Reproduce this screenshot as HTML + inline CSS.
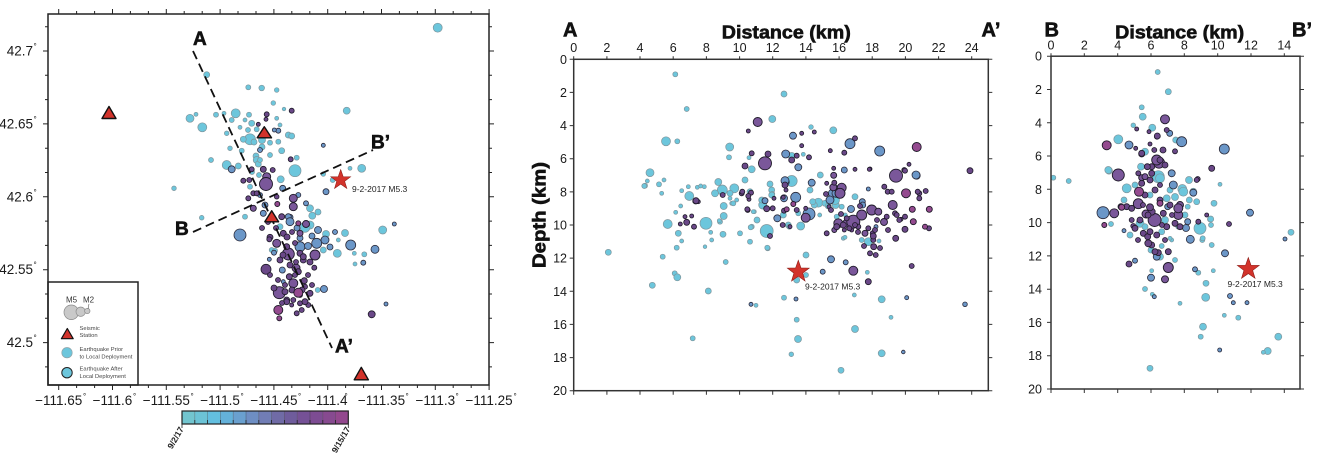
<!DOCTYPE html>
<html><head><meta charset="utf-8"><style>
html,body{margin:0;padding:0;background:#fff;}
svg{display:block;font-family:"Liberation Sans",Arial,sans-serif;}
.a{fill:#6cc6dc;stroke:#7f959c;stroke-width:.7}
.b{fill:#6b97c8;stroke:#2a2a3a;stroke-width:.8}
.c{fill:#7a579a;stroke:#1e1a28;stroke-width:.9}
.d{fill:#6a4888;stroke:#1e1a28;stroke-width:.8}
.e{fill:#944a8f;stroke:#1e1a28;stroke-width:.9}
.t{font-size:12.5px;fill:#1a1a1a}
.m{font-size:13.5px;fill:#1a1a1a}
.bl{font-weight:bold;fill:#111;stroke:#111;stroke-width:.6}
</style></head><body>
<svg width="1336" height="469" viewBox="0 0 1336 469" xmlns="http://www.w3.org/2000/svg">
<defs>
<clipPath id="cm"><rect x="48" y="14" width="441" height="371"/></clipPath>
<clipPath id="c2"><rect x="574" y="59" width="414" height="332"/></clipPath>
<clipPath id="c3"><rect x="1051" y="56" width="249" height="333"/></clipPath>
</defs>

<!-- ================= MAP ================= -->
<g clip-path="url(#cm)">
<g class="a">
<circle cx="437.7" cy="27.7" r="4.5"/><circle cx="206.7" cy="74.7" r="3"/><circle cx="248.3" cy="87.3" r="2.5"/><circle cx="261.7" cy="88" r="2.8"/><circle cx="276.7" cy="90" r="2.3"/><circle cx="273.3" cy="103" r="2.3"/><circle cx="284" cy="109" r="1.8"/><circle cx="346.7" cy="110.7" r="3.5"/><circle cx="190" cy="118.3" r="4"/><circle cx="196" cy="114.3" r="2"/><circle cx="202.3" cy="127.3" r="4.5"/><circle cx="216" cy="114.7" r="2.5"/><circle cx="224" cy="113.3" r="2"/><circle cx="235.7" cy="113.3" r="4.5"/><circle cx="231.7" cy="120" r="2.5"/><circle cx="249" cy="114.7" r="2.5"/><circle cx="245" cy="120" r="2"/><circle cx="276.7" cy="118.3" r="2"/><circle cx="240" cy="127.3" r="2"/><circle cx="251.7" cy="123.3" r="3"/><circle cx="256.7" cy="129.3" r="2.5"/><circle cx="250" cy="139.3" r="5.5"/><circle cx="243.3" cy="139.3" r="3"/><circle cx="270" cy="142.7" r="2.5"/><circle cx="278.3" cy="141.7" r="2.5"/><circle cx="288.3" cy="135" r="3"/><circle cx="291.7" cy="136" r="3"/><circle cx="280" cy="125" r="2"/><circle cx="226.7" cy="133.3" r="2.3"/><circle cx="230" cy="148.3" r="2.3"/><circle cx="241.7" cy="150.7" r="2.5"/><circle cx="256" cy="156" r="3"/><circle cx="256.7" cy="160" r="3.5"/><circle cx="258.3" cy="164" r="3"/><circle cx="296.7" cy="157.7" r="2.5"/><circle cx="281.7" cy="150.7" r="3"/><circle cx="211" cy="160" r="2.5"/><circle cx="226.7" cy="165" r="4.5"/><circle cx="238.3" cy="166" r="3"/><circle cx="295" cy="170.7" r="6"/><circle cx="361.7" cy="168.3" r="4"/><circle cx="350" cy="168.3" r="2"/><circle cx="323.3" cy="174" r="2.3"/><circle cx="174" cy="188.3" r="2.3"/><circle cx="280.7" cy="179.3" r="3.5"/><circle cx="250" cy="186.7" r="2.5"/><circle cx="310" cy="208.3" r="3.5"/><circle cx="312.3" cy="215.7" r="3.5"/><circle cx="332.7" cy="180" r="2.5"/><circle cx="201.7" cy="217.7" r="2.3"/><circle cx="245" cy="216.7" r="2.5"/><circle cx="382.7" cy="230" r="4"/><circle cx="310" cy="225" r="4"/><circle cx="305" cy="227.3" r="5"/><circle cx="280" cy="226.7" r="3"/><circle cx="271.7" cy="250" r="2.5"/><circle cx="323.3" cy="250" r="3"/><circle cx="337.3" cy="253.3" r="4"/><circle cx="354.3" cy="253.3" r="2"/><circle cx="364.3" cy="254.3" r="2.5"/><circle cx="355" cy="264" r="2"/><circle cx="338.3" cy="240" r="2"/><circle cx="326" cy="234" r="3.5"/><circle cx="317.7" cy="290" r="2.5"/><circle cx="282.7" cy="270.7" r="2.5"/><circle cx="275" cy="250.7" r="2.5"/><circle cx="260" cy="160" r="2.5"/><circle cx="265" cy="135" r="2.5"/><circle cx="248" cy="130" r="2.5"/><circle cx="262" cy="147" r="3"/><circle cx="270" cy="155" r="2.5"/><circle cx="252" cy="172" r="2.5"/><circle cx="254" cy="142" r="3"/><circle cx="262" cy="140" r="3.5"/><circle cx="259" cy="175" r="2.5"/><circle cx="318" cy="212" r="3"/><circle cx="345" cy="233" r="3.5"/>
</g>
<g class="b">
<circle cx="323.3" cy="145.3" r="2"/><circle cx="260" cy="150" r="2.5"/><circle cx="278.3" cy="130.7" r="2.5"/><circle cx="274.3" cy="130" r="2"/><circle cx="231.7" cy="169.3" r="3.5"/><circle cx="260" cy="195" r="2.5"/><circle cx="282.7" cy="188.3" r="3"/><circle cx="265" cy="205" r="3"/><circle cx="298.3" cy="195" r="2.5"/><circle cx="306" cy="203.3" r="2.5"/><circle cx="326" cy="191.7" r="3"/><circle cx="290" cy="217.3" r="3"/><circle cx="394.3" cy="224" r="2"/><circle cx="240" cy="235" r="6"/><circle cx="375" cy="249.3" r="4"/><circle cx="350.7" cy="245" r="5"/><circle cx="363.3" cy="262.7" r="2.5"/><circle cx="324" cy="289" r="3.5"/><circle cx="386" cy="304" r="2"/><circle cx="269.3" cy="259.3" r="2"/><circle cx="282.3" cy="270" r="3"/><circle cx="263.3" cy="213.3" r="3"/><circle cx="288.3" cy="216.7" r="3"/><circle cx="290" cy="221.7" r="4"/><circle cx="316.7" cy="243.3" r="5"/><circle cx="300" cy="246.7" r="5"/><circle cx="274" cy="252.7" r="2.5"/><circle cx="283.3" cy="281.7" r="2"/><circle cx="325" cy="240" r="4"/><circle cx="330" cy="247" r="3"/><circle cx="312" cy="236" r="3"/><circle cx="335" cy="232" r="2.5"/><circle cx="300" cy="238" r="3"/><circle cx="318" cy="230" r="3.5"/><circle cx="308" cy="246" r="3.5"/><circle cx="297" cy="228" r="3"/>
</g>
<g class="c">
<circle cx="266.7" cy="176.7" r="4"/><circle cx="266" cy="184" r="6.5"/><circle cx="253.3" cy="208.3" r="3"/><circle cx="293.3" cy="198.3" r="4"/><circle cx="306" cy="224" r="3.5"/><circle cx="315" cy="255" r="5"/><circle cx="279.3" cy="292.7" r="6"/><circle cx="293.3" cy="283.3" r="4.5"/><circle cx="288.3" cy="254" r="6"/><circle cx="276.7" cy="243.3" r="4"/><circle cx="300" cy="233.3" r="3"/><circle cx="293.3" cy="206.7" r="4"/><circle cx="296" cy="268" r="4"/>
</g>
<g class="d">
<circle cx="291.7" cy="110.7" r="2.5"/><circle cx="266.7" cy="114.3" r="2.5"/><circle cx="266" cy="119.3" r="2"/><circle cx="258.3" cy="124.3" r="2"/><circle cx="290.7" cy="159.3" r="2.5"/><circle cx="251.7" cy="169.3" r="2.5"/><circle cx="263.3" cy="169.3" r="3"/><circle cx="272.7" cy="170" r="2.5"/><circle cx="243.3" cy="180.7" r="2.5"/><circle cx="249.3" cy="180" r="2.5"/><circle cx="253.3" cy="193.3" r="2.5"/><circle cx="248.3" cy="198.3" r="2.5"/><circle cx="256.7" cy="193.3" r="2.5"/><circle cx="276.7" cy="196.7" r="2.3"/><circle cx="281.7" cy="216.7" r="3"/><circle cx="283.3" cy="233.3" r="3"/><circle cx="270" cy="237.3" r="3"/><circle cx="286.7" cy="246.7" r="3"/><circle cx="300" cy="253.3" r="3"/><circle cx="303.3" cy="260" r="3"/><circle cx="298.3" cy="271.7" r="3"/><circle cx="295" cy="275" r="2.5"/><circle cx="305" cy="286.7" r="2.5"/><circle cx="285" cy="291.7" r="3"/><circle cx="266" cy="269.3" r="5"/><circle cx="314.3" cy="267.7" r="2.5"/><circle cx="304.3" cy="280.7" r="3"/><circle cx="286.7" cy="300" r="3"/><circle cx="300" cy="303.3" r="2.5"/><circle cx="308.3" cy="305" r="2.5"/><circle cx="291.7" cy="305" r="2"/><circle cx="289.3" cy="276.7" r="3"/><circle cx="296.7" cy="313.3" r="2.5"/><circle cx="301.7" cy="310" r="2.5"/><circle cx="286.7" cy="301.7" r="3"/><circle cx="293.3" cy="300" r="2.5"/><circle cx="305" cy="301.7" r="3"/><circle cx="310" cy="293.3" r="3"/><circle cx="371.7" cy="314.3" r="3.5"/><circle cx="303.3" cy="256.7" r="3"/><circle cx="269.3" cy="239.3" r="2.5"/><circle cx="280" cy="260" r="3"/><circle cx="290" cy="265" r="3"/><circle cx="296" cy="262" r="2.5"/><circle cx="285" cy="285" r="2.5"/><circle cx="292" cy="290" r="3"/><circle cx="278" cy="280" r="2.5"/><circle cx="300" cy="295" r="2.5"/><circle cx="270" cy="275" r="2.5"/><circle cx="287" cy="237" r="3"/><circle cx="295" cy="243" r="2.5"/><circle cx="276" cy="228" r="2.5"/><circle cx="262" cy="228" r="2.5"/><circle cx="268" cy="222" r="2.5"/><circle cx="308" cy="275" r="2.5"/><circle cx="312" cy="285" r="2.5"/><circle cx="283" cy="255" r="3"/><circle cx="292" cy="232" r="2.5"/><circle cx="302" cy="290" r="3"/><circle cx="274" cy="288" r="3"/><circle cx="282" cy="303" r="2.5"/><circle cx="310" cy="262" r="3"/>
</g>
<g class="e">
<circle cx="277.3" cy="204" r="2.5"/><circle cx="298.3" cy="223.3" r="2.5"/><circle cx="298.3" cy="292.7" r="4.5"/><circle cx="278.3" cy="310" r="4.5"/><circle cx="279.3" cy="318.3" r="2.5"/>
</g>
</g>
<!-- profile lines -->
<g stroke="#111" stroke-width="1.8" stroke-dasharray="9 5" fill="none">
<line x1="193" y1="51" x2="332" y2="348"/>
<line x1="193" y1="232" x2="373" y2="150"/>
</g>
<!-- stations -->
<g fill="#d2332b" stroke="#111" stroke-width="1.4" stroke-linejoin="round">
<polygon points="109,106.5 116,118.5 102,118.5"/>
<polygon points="264.3,126.7 271.5,137.8 257.2,137.8"/>
<polygon points="271.7,210.7 278.6,221.8 264.8,221.8"/>
<polygon points="361.3,367.3 368.4,379.8 354.2,379.8"/>
</g>
<polygon transform="translate(340.7,180) scale(10.5)" fill="#d2332b" stroke="#8a1a14" stroke-width=".05" points="0,-1 0.235,-0.324 0.951,-0.309 0.380,0.124 0.588,0.809 0,0.4 -0.588,0.809 -0.380,0.124 -0.951,-0.309 -0.235,-0.324"/>
<text x="352" y="192" style="font-size:8.5px;fill:#222">9-2-2017 M5.3</text>
<text x="193" y="45" class="bl" style="font-size:19px">A</text>
<text x="371" y="148.5" class="bl" style="font-size:19px">B’</text>
<text x="175" y="235" class="bl" style="font-size:19px">B</text>
<text x="335" y="352.7" class="bl" style="font-size:19px">A’</text>

<!-- legend -->
<rect x="48" y="282" width="90" height="103" fill="#fff" stroke="#222" stroke-width="1.5"/>
<g fill="#c9c9c9" stroke="#8a8a8a" stroke-width=".7">
<circle cx="71.3" cy="312.3" r="7.3"/><circle cx="80.7" cy="311.7" r="4.7"/><circle cx="87.3" cy="311" r="2.7"/>
</g>
<line x1="89" y1="304" x2="88" y2="309" stroke="#555" stroke-width=".6"/>
<text x="66" y="302.5" style="font-size:8px;fill:#333">M5</text>
<text x="83" y="302.5" style="font-size:8px;fill:#333">M2</text>
<polygon points="67.3,328.5 73.2,338.7 61.4,338.7" fill="#d2332b" stroke="#111" stroke-width="1.2" stroke-linejoin="round"/>
<g style="font-size:5.8px;fill:#444">
<text x="79.5" y="330">Seismic</text><text x="79.5" y="337">Station</text>
<text x="79.5" y="351">Earthquake Prior</text><text x="79.5" y="358.5">to Local Deployment</text>
<text x="79.5" y="370.7">Earthquake After</text><text x="79.5" y="378">Local Deployment</text>
</g>
<circle cx="67" cy="352.7" r="5.2" fill="#6cc6dc" stroke="#8fa3a8" stroke-width=".7"/>
<circle cx="67" cy="372.7" r="5.2" fill="#6cc6dc" stroke="#222" stroke-width="1"/>

<!-- map frame -->
<rect x="48" y="14" width="441" height="371" fill="none" stroke="#222" stroke-width="1.5"/>
<g stroke="#222" stroke-width="1" fill="none">
<path d="M58.7 14v-5M76.6 14v-3M94.6 14v-3M112.5 14v-5M130.4 14v-3M148.4 14v-3M166.3 14v-5M184.2 14v-3M202.2 14v-3M220.1 14v-5M238 14v-3M256 14v-3M273.9 14v-5M291.8 14v-3M309.8 14v-3M327.7 14v-5M345.6 14v-3M363.6 14v-3M381.5 14v-5M399.4 14v-3M417.4 14v-3M435.3 14v-5M453.2 14v-3M471.2 14v-3M489.1 14v-5"/>
<path d="M58.7 385v5M76.6 385v3M94.6 385v3M112.5 385v5M130.4 385v3M148.4 385v3M166.3 385v5M184.2 385v3M202.2 385v3M220.1 385v5M238 385v3M256 385v3M273.9 385v5M291.8 385v3M309.8 385v3M327.7 385v5M345.6 385v3M363.6 385v3M381.5 385v5M399.4 385v3M417.4 385v3M435.3 385v5M453.2 385v3M471.2 385v3M489.1 385v5"/>
<path d="M48 51h-5M48 123.9h-5M48 196.8h-5M48 269.7h-5M48 342.6h-5M48 26.7h-3M48 75.3h-3M48 99.6h-3M48 148.2h-3M48 172.5h-3M48 221.1h-3M48 245.4h-3M48 294h-3M48 318.3h-3M48 366.9h-3"/>
<path d="M489 51h5M489 123.9h5M489 196.8h5M489 269.7h5M489 342.6h5M489 26.7h3M489 75.3h3M489 99.6h3M489 148.2h3M489 172.5h3M489 221.1h3M489 245.4h3M489 294h3M489 318.3h3M489 366.9h3"/>
</g>
<g class="m" text-anchor="end">
<text x="33" y="55.5">42.7</text><text x="33" y="128.4">42.65</text><text x="33" y="201.3">42.6</text><text x="33" y="274.2">42.55</text><text x="33" y="347.1">42.5</text>
</g>
<g style="font-size:8px;fill:#1a1a1a">
<text x="33.5" y="49">°</text><text x="33.5" y="121.9">°</text><text x="33.5" y="194.8">°</text><text x="33.5" y="267.7">°</text><text x="33.5" y="340.6">°</text>
</g>
<g class="m" text-anchor="middle">
<text x="58.7" y="405">−111.65</text><text x="112.5" y="405">−111.6</text><text x="166.3" y="405">−111.55</text><text x="220.1" y="405">−111.5</text><text x="273.9" y="405">−111.45</text><text x="327.7" y="405">−111.4</text><text x="381.5" y="405">−111.35</text><text x="435.3" y="405">−111.3</text><text x="489.1" y="405">−111.25</text>
</g>
<g style="font-size:8px;fill:#1a1a1a">
<text x="83" y="399">°</text><text x="133" y="399">°</text><text x="190.5" y="399">°</text><text x="240.5" y="399">°</text><text x="298" y="399">°</text><text x="344.5" y="399">°</text><text x="405.5" y="399">°</text><text x="455.5" y="399">°</text><text x="513.5" y="399">°</text>
</g>

<!-- colorbar -->
<g stroke="none">
<rect x="182" y="411" width="12.8" height="13" fill="#72c5cf"/><rect x="194.8" y="411" width="12.8" height="13" fill="#6cc3d6"/><rect x="207.6" y="411" width="12.8" height="13" fill="#63bfe0"/><rect x="220.4" y="411" width="12.8" height="13" fill="#64b1da"/><rect x="233.2" y="411" width="12.8" height="13" fill="#6aa0cf"/><rect x="246" y="411" width="12.8" height="13" fill="#6e8ec3"/><rect x="258.8" y="411" width="12.8" height="13" fill="#717db5"/><rect x="271.6" y="411" width="12.8" height="13" fill="#706ba6"/><rect x="284.4" y="411" width="12.8" height="13" fill="#6f5c9c"/><rect x="297.2" y="411" width="12.8" height="13" fill="#755196"/><rect x="310" y="411" width="12.8" height="13" fill="#7d4c93"/><rect x="322.8" y="411" width="12.8" height="13" fill="#874a90"/><rect x="335.6" y="411" width="12.7" height="13" fill="#93488e"/>
</g>
<path d="M194.8 411v13M207.6 411v13M220.4 411v13M233.2 411v13M246 411v13M258.8 411v13M271.6 411v13M284.4 411v13M297.2 411v13M310 411v13M322.8 411v13M335.6 411v13" stroke="#333" stroke-width=".6" stroke-opacity=".5"/>
<path d="M194.8 424v-4M207.6 424v-4M220.4 424v-4M233.2 424v-4M246 424v-4M258.8 424v-4M271.6 424v-4M284.4 424v-4M297.2 424v-4M310 424v-4M322.8 424v-4M335.6 424v-4M182 424v4M348.3 424v4" stroke="#222" stroke-width=".8"/>
<rect x="182" y="411" width="166.3" height="13" fill="none" stroke="#222" stroke-width="1.2"/>
<text transform="translate(184,429) rotate(-60)" text-anchor="end" style="font-size:8.5px;font-weight:bold;fill:#222">9/2/17</text>
<text transform="translate(350.5,429) rotate(-60)" text-anchor="end" style="font-size:8.5px;font-weight:bold;fill:#222">9/15/17</text>

<!-- ================= A-A' ================= -->
<g clip-path="url(#c2)">
<g class="a">
<circle cx="675.3" cy="74.3" r="2.5"/><circle cx="686.7" cy="109" r="2.5"/><circle cx="784" cy="94" r="3"/><circle cx="772.3" cy="119" r="3.5"/><circle cx="811" cy="127" r="2.3"/><circle cx="833.3" cy="130.3" r="3.5"/><circle cx="666" cy="141.3" r="4.5"/><circle cx="677.3" cy="141.3" r="2.5"/><circle cx="729.7" cy="147" r="4"/><circle cx="729" cy="157.3" r="2.5"/><circle cx="749" cy="157.7" r="2"/><circle cx="751.7" cy="169.3" r="3.5"/><circle cx="791.7" cy="156" r="3.5"/><circle cx="803.3" cy="154.3" r="2"/><circle cx="650" cy="172.7" r="4"/><circle cx="647.3" cy="181" r="2"/><circle cx="645" cy="185.7" r="2.5"/><circle cx="659" cy="184.3" r="2.5"/><circle cx="661.7" cy="193.3" r="2"/><circle cx="681.7" cy="190.7" r="2"/><circle cx="688.3" cy="186.7" r="2"/><circle cx="697.3" cy="187.3" r="2"/><circle cx="700.7" cy="186" r="2"/><circle cx="704.3" cy="186.7" r="2"/><circle cx="718.3" cy="182" r="3.5"/><circle cx="722.3" cy="190" r="5"/><circle cx="734.3" cy="188.3" r="4.5"/><circle cx="730" cy="193.3" r="3"/><circle cx="771.7" cy="190" r="3"/><circle cx="772.3" cy="194" r="2.5"/><circle cx="791.7" cy="181" r="5.5"/><circle cx="820.3" cy="175" r="3"/><circle cx="836.7" cy="189.3" r="4"/><circle cx="689.3" cy="196" r="4.5"/><circle cx="680.7" cy="206" r="2"/><circle cx="675.7" cy="212.3" r="2"/><circle cx="667.7" cy="224" r="4.5"/><circle cx="706" cy="223.3" r="6"/><circle cx="715" cy="193.3" r="3.5"/><circle cx="723.7" cy="206" r="3.5"/><circle cx="723.7" cy="216" r="3.5"/><circle cx="720" cy="221.7" r="2.5"/><circle cx="731.7" cy="203.3" r="2"/><circle cx="736.7" cy="200" r="2"/><circle cx="678.3" cy="233.3" r="3"/><circle cx="681.7" cy="241" r="2"/><circle cx="676.7" cy="247.7" r="2.5"/><circle cx="710.7" cy="232.3" r="2"/><circle cx="711.7" cy="240" r="2"/><circle cx="705" cy="246.7" r="1.8"/><circle cx="723" cy="234.3" r="3"/><circle cx="725.7" cy="262" r="2.5"/><circle cx="740" cy="233.3" r="2.5"/><circle cx="751.7" cy="226.7" r="2.5"/><circle cx="750" cy="241.7" r="2.5"/><circle cx="754.3" cy="211.7" r="2"/><circle cx="771.7" cy="195" r="3"/><circle cx="763.3" cy="205" r="3.5"/><circle cx="766.7" cy="231" r="6.5"/><circle cx="783.3" cy="215" r="3"/><circle cx="788.3" cy="225" r="3"/><circle cx="800.7" cy="226" r="4"/><circle cx="819.7" cy="215" r="2"/><circle cx="818.3" cy="202.7" r="4.5"/><circle cx="825" cy="203.3" r="3"/><circle cx="814.3" cy="205" r="3"/><circle cx="835.7" cy="205" r="3.5"/><circle cx="841.7" cy="206.7" r="2.5"/><circle cx="845.3" cy="215" r="2"/><circle cx="855" cy="196.7" r="3"/><circle cx="861.7" cy="240" r="2.5"/><circle cx="868.3" cy="241.7" r="4"/><circle cx="879" cy="241" r="2"/><circle cx="843.3" cy="238.3" r="2"/><circle cx="608.3" cy="252.3" r="3"/><circle cx="662.7" cy="256.7" r="2.5"/><circle cx="674.7" cy="273.3" r="2.5"/><circle cx="677.3" cy="277.3" r="3.5"/><circle cx="652.3" cy="285.3" r="3"/><circle cx="708.3" cy="291" r="3"/><circle cx="692.7" cy="338.3" r="2.5"/><circle cx="756" cy="305.3" r="2"/><circle cx="767.7" cy="248.3" r="2.5"/><circle cx="784" cy="297.7" r="2.5"/><circle cx="796.7" cy="319.7" r="2.5"/><circle cx="798" cy="339" r="3.5"/><circle cx="791.3" cy="354.3" r="2.3"/><circle cx="806" cy="255" r="3"/><circle cx="806" cy="275" r="2.5"/><circle cx="796.7" cy="280" r="3"/><circle cx="867.3" cy="272.3" r="2"/><circle cx="854.3" cy="295" r="2"/><circle cx="855" cy="329" r="3.5"/><circle cx="841" cy="370.3" r="3"/><circle cx="881.7" cy="299.3" r="3.5"/><circle cx="881.7" cy="353.3" r="3.5"/><circle cx="891" cy="317.3" r="2"/><circle cx="762.7" cy="205" r="4"/><circle cx="761.7" cy="200" r="3"/><circle cx="770" cy="184" r="3"/><circle cx="798.3" cy="213.3" r="2.5"/><circle cx="789.3" cy="226.7" r="2.5"/><circle cx="812.7" cy="201.7" r="3"/><circle cx="835" cy="200" r="4.5"/><circle cx="828.3" cy="206" r="3"/><circle cx="836.7" cy="216.7" r="2.5"/><circle cx="845" cy="237.3" r="2"/><circle cx="767.3" cy="247.7" r="2.5"/><circle cx="733.3" cy="203.3" r="2.5"/><circle cx="730" cy="198.3" r="2"/><circle cx="719.3" cy="220.7" r="2"/><circle cx="750" cy="191.7" r="3"/><circle cx="753.3" cy="211.7" r="2"/><circle cx="750.7" cy="227.3" r="2.5"/><circle cx="644.3" cy="186" r="2.5"/><circle cx="664" cy="180" r="2"/><circle cx="745" cy="180" r="3"/><circle cx="810" cy="190" r="3"/><circle cx="757" cy="220" r="3"/>
</g>
<g class="b">
<circle cx="793" cy="135.7" r="3.5"/><circle cx="850" cy="143.7" r="5"/><circle cx="879.7" cy="151" r="5"/><circle cx="916.7" cy="175.7" r="3.5"/><circle cx="785.7" cy="154" r="4"/><circle cx="798.3" cy="167.3" r="3.5"/><circle cx="844.3" cy="170" r="3"/><circle cx="785.7" cy="182.3" r="3.5"/><circle cx="811.7" cy="182.7" r="3.5"/><circle cx="868.3" cy="189" r="2"/><circle cx="695.7" cy="201" r="3"/><circle cx="765" cy="200.7" r="3"/><circle cx="777.3" cy="218.3" r="3.5"/><circle cx="795.7" cy="197.3" r="5"/><circle cx="809" cy="214" r="6"/><circle cx="832.3" cy="193.3" r="4"/><circle cx="862.3" cy="201.7" r="3"/><circle cx="822.7" cy="271.7" r="2.5"/><circle cx="831" cy="259.3" r="3.5"/><circle cx="845.7" cy="262.3" r="2.5"/><circle cx="903.3" cy="352" r="1.8"/><circle cx="906.7" cy="297.7" r="2"/><circle cx="965" cy="304.3" r="2.3"/><circle cx="751" cy="304.3" r="2"/><circle cx="796" cy="299" r="2"/><circle cx="785" cy="180.7" r="4"/><circle cx="784" cy="198.3" r="3.5"/><circle cx="830" cy="200" r="4"/><circle cx="836" cy="193.3" r="4"/><circle cx="862.7" cy="205" r="3"/><circle cx="876" cy="226.7" r="2"/><circle cx="916" cy="175" r="4"/><circle cx="851" cy="209" r="3.5"/>
</g>
<g class="c">
<circle cx="757.7" cy="122" r="4.5"/><circle cx="765" cy="163.3" r="6.5"/><circle cx="833.7" cy="175.3" r="3"/><circle cx="896" cy="175.7" r="6.5"/><circle cx="841.7" cy="187.7" r="4.5"/><circle cx="805.7" cy="217.7" r="4.5"/><circle cx="840" cy="193.3" r="5"/><circle cx="838.3" cy="223.3" r="4.5"/><circle cx="846.7" cy="223.3" r="4"/><circle cx="853.3" cy="221.7" r="6.5"/><circle cx="861.7" cy="215" r="5"/><circle cx="871.7" cy="210" r="5"/><circle cx="878.3" cy="211.7" r="3.5"/><circle cx="892.7" cy="205" r="4.5"/><circle cx="865" cy="233.3" r="3"/><circle cx="834.3" cy="230" r="2.5"/><circle cx="853.3" cy="270.7" r="4.5"/><circle cx="833.3" cy="187.3" r="3.5"/><circle cx="884" cy="222" r="3.5"/>
</g>
<g class="d">
<circle cx="748.3" cy="131" r="2"/><circle cx="814.3" cy="132" r="2"/><circle cx="801.7" cy="133.3" r="2"/><circle cx="855" cy="138.3" r="2.5"/><circle cx="801.7" cy="145.7" r="2"/><circle cx="751.7" cy="153.3" r="2.5"/><circle cx="768" cy="154" r="3"/><circle cx="745" cy="166" r="3"/><circle cx="796.7" cy="155.7" r="2.5"/><circle cx="791.7" cy="160" r="3"/><circle cx="809" cy="157.3" r="2.5"/><circle cx="830.3" cy="150.7" r="2"/><circle cx="844.3" cy="152.7" r="2.5"/><circle cx="833.7" cy="168.3" r="2"/><circle cx="855" cy="169.3" r="2"/><circle cx="870" cy="169" r="2"/><circle cx="909" cy="164.3" r="2"/><circle cx="904.3" cy="170" r="2.5"/><circle cx="970" cy="170.7" r="3"/><circle cx="741.7" cy="193.3" r="2.5"/><circle cx="751" cy="192.7" r="2.5"/><circle cx="785" cy="185" r="3"/><circle cx="826.7" cy="183.3" r="2"/><circle cx="834.3" cy="182.7" r="2.5"/><circle cx="884.3" cy="186.7" r="2.5"/><circle cx="887.7" cy="191.7" r="2.5"/><circle cx="891.7" cy="191.7" r="2.5"/><circle cx="919.3" cy="193.3" r="2.5"/><circle cx="925.7" cy="191" r="2.5"/><circle cx="685" cy="216.7" r="2"/><circle cx="680.3" cy="224" r="2"/><circle cx="686.7" cy="222.3" r="3"/><circle cx="694" cy="226.7" r="2.5"/><circle cx="691.7" cy="216" r="2"/><circle cx="698.3" cy="201.7" r="2"/><circle cx="722.7" cy="195" r="2.5"/><circle cx="747.7" cy="210" r="2.5"/><circle cx="749" cy="199.3" r="2"/><circle cx="770" cy="236" r="2.5"/><circle cx="772.7" cy="208.3" r="2.5"/><circle cx="783.3" cy="197.3" r="2"/><circle cx="796.7" cy="210" r="2.5"/><circle cx="790" cy="226.7" r="2"/><circle cx="805.7" cy="208.3" r="2"/><circle cx="829" cy="206.7" r="2"/><circle cx="844.3" cy="230" r="2"/><circle cx="851.7" cy="230" r="2"/><circle cx="858.3" cy="226.7" r="2.5"/><circle cx="872.7" cy="233.3" r="2.5"/><circle cx="873.3" cy="240" r="2.5"/><circle cx="873.7" cy="246.7" r="3"/><circle cx="870" cy="253.3" r="2.5"/><circle cx="875.7" cy="255" r="2.5"/><circle cx="826.7" cy="233.3" r="2.5"/><circle cx="886.7" cy="216.7" r="2.5"/><circle cx="895" cy="213.3" r="2.5"/><circle cx="905" cy="216.7" r="2.5"/><circle cx="901" cy="219.3" r="2"/><circle cx="905" cy="229.3" r="3"/><circle cx="895.7" cy="238.3" r="3"/><circle cx="917.7" cy="191.7" r="2.5"/><circle cx="929" cy="228.3" r="2.5"/><circle cx="911.7" cy="266" r="2.5"/><circle cx="868.3" cy="281.7" r="3"/><circle cx="696" cy="200.7" r="3"/><circle cx="742.3" cy="191.7" r="2.5"/><circle cx="748.3" cy="196" r="2.5"/><circle cx="747.3" cy="209.3" r="2.5"/><circle cx="766.7" cy="208.7" r="3"/><circle cx="774" cy="198.3" r="2"/><circle cx="786" cy="190" r="2"/><circle cx="784" cy="210.7" r="2.5"/><circle cx="782.7" cy="225" r="2.5"/><circle cx="831" cy="210" r="2.5"/><circle cx="826" cy="194" r="2.5"/><circle cx="836.7" cy="226.7" r="3"/><circle cx="843.3" cy="225" r="3"/><circle cx="849.3" cy="228.3" r="2.5"/><circle cx="855" cy="225" r="2.5"/><circle cx="868.3" cy="228.3" r="2.5"/><circle cx="875" cy="230" r="2.5"/><circle cx="873.3" cy="236" r="3"/><circle cx="896.7" cy="215" r="2.5"/><circle cx="899.3" cy="220" r="2.5"/><circle cx="919.3" cy="198.3" r="2.5"/><circle cx="905" cy="170.7" r="2.5"/><circle cx="869.3" cy="169.3" r="2"/><circle cx="846.7" cy="218.3" r="2.5"/><circle cx="877" cy="220" r="2.5"/><circle cx="864" cy="246" r="2.5"/><circle cx="880" cy="248" r="2.5"/><circle cx="860" cy="206" r="2.5"/><circle cx="858" cy="232" r="2.5"/><circle cx="841" cy="214" r="2.5"/><circle cx="888" cy="230" r="2.5"/>
</g>
<g class="e">
<circle cx="916.7" cy="147" r="4.5"/><circle cx="906" cy="193.3" r="4.5"/><circle cx="912.3" cy="209.3" r="3"/><circle cx="913.3" cy="221.7" r="3"/><circle cx="925" cy="226.7" r="2.5"/><circle cx="929.3" cy="209.3" r="3"/><circle cx="793.3" cy="204" r="2.5"/><circle cx="786.7" cy="209.3" r="2.5"/>
</g>
</g>
<polygon transform="translate(798.3,271.7) scale(11.5)" fill="#d2332b" stroke="#8a1a14" stroke-width=".05" points="0,-1 0.235,-0.324 0.951,-0.309 0.380,0.124 0.588,0.809 0,0.4 -0.588,0.809 -0.380,0.124 -0.951,-0.309 -0.235,-0.324"/>
<text x="805" y="289.5" style="font-size:8.5px;fill:#222">9-2-2017 M5.3</text>
<rect x="573.7" y="59.3" width="414.6" height="331.4" fill="none" stroke="#333" stroke-width="1.5"/>
<g stroke="#333" stroke-width="1">
<path d="M573.7 59.3v-3M606.9 59.3v-3M640 59.3v-3M673.2 59.3v-3M706.4 59.3v-3M739.6 59.3v-3M772.7 59.3v-3M805.9 59.3v-3M839.1 59.3v-3M872.2 59.3v-3M905.4 59.3v-3M938.6 59.3v-3M971.7 59.3v-3"/>
<path d="M573.7 390.7v4M606.9 390.7v4M640 390.7v4M673.2 390.7v4M706.4 390.7v4M739.6 390.7v4M772.7 390.7v4M805.9 390.7v4M839.1 390.7v4M872.2 390.7v4M905.4 390.7v4M938.6 390.7v4M971.7 390.7v4"/>
<path d="M573.7 59.3h-4M573.7 92.4h-4M573.7 125.6h-4M573.7 158.7h-4M573.7 191.9h-4M573.7 225h-4M573.7 258.1h-4M573.7 291.3h-4M573.7 324.4h-4M573.7 357.6h-4M573.7 390.7h-4"/>
<path d="M988.3 59.3h4M988.3 92.4h4M988.3 125.6h4M988.3 158.7h4M988.3 191.9h4M988.3 225h4M988.3 258.1h4M988.3 291.3h4M988.3 324.4h4M988.3 357.6h4M988.3 390.7h4"/>
</g>
<g class="t" text-anchor="middle">
<text x="573.7" y="52">0</text><text x="606.9" y="52">2</text><text x="640" y="52">4</text><text x="673.2" y="52">6</text><text x="706.4" y="52">8</text><text x="739.6" y="52">10</text><text x="772.7" y="52">12</text><text x="805.9" y="52">14</text><text x="839.1" y="52">16</text><text x="872.2" y="52">18</text><text x="905.4" y="52">20</text><text x="938.6" y="52">22</text><text x="971.7" y="52">24</text>
</g>
<g class="t" text-anchor="end">
<text x="567" y="63.8">0</text><text x="567" y="96.9">2</text><text x="567" y="130.1">4</text><text x="567" y="163.2">6</text><text x="567" y="196.4">8</text><text x="567" y="229.5">10</text><text x="567" y="262.6">12</text><text x="567" y="295.8">14</text><text x="567" y="328.9">16</text><text x="567" y="362.1">18</text><text x="567" y="395.2">20</text>
</g>
<text x="786.3" y="38.3" text-anchor="middle" class="bl" style="font-size:18px" textLength="129" lengthAdjust="spacingAndGlyphs">Distance (km)</text>
<text x="563" y="36.7" class="bl" style="font-size:20px">A</text>
<text x="981.5" y="36.7" class="bl" style="font-size:20px">A’</text>
<text transform="translate(545.5,215) rotate(-90)" text-anchor="middle" class="bl" style="font-size:18px" textLength="106" lengthAdjust="spacingAndGlyphs">Depth (km)</text>

<!-- ================= B-B' ================= -->
<g clip-path="url(#c3)">
<g class="a">
<circle cx="1157.7" cy="72" r="2.5"/><circle cx="1168.3" cy="91.7" r="3"/><circle cx="1141.7" cy="107.3" r="2.5"/><circle cx="1142.7" cy="116.7" r="3.5"/><circle cx="1133.3" cy="125.3" r="2.3"/><circle cx="1152.3" cy="127.7" r="3.5"/><circle cx="1118.3" cy="139.3" r="4.5"/><circle cx="1175.7" cy="140" r="3"/><circle cx="1145" cy="151.7" r="3.5"/><circle cx="1109" cy="170.7" r="3.5"/><circle cx="1053.3" cy="177.7" r="2.5"/><circle cx="1068.7" cy="181" r="2.5"/><circle cx="1141" cy="166.7" r="3.5"/><circle cx="1158.3" cy="176.7" r="6"/><circle cx="1189" cy="180" r="3.5"/><circle cx="1220" cy="184.3" r="2"/><circle cx="1126.7" cy="188.3" r="4.5"/><circle cx="1182.3" cy="189" r="4.5"/><circle cx="1111" cy="224" r="2.5"/><circle cx="1140" cy="223.3" r="4"/><circle cx="1187.7" cy="206.7" r="2.5"/><circle cx="1200" cy="228.3" r="6"/><circle cx="1210" cy="219.3" r="2.5"/><circle cx="1211" cy="225" r="2.5"/><circle cx="1214" cy="203.3" r="3"/><circle cx="1291" cy="232.3" r="3"/><circle cx="1151" cy="250" r="3"/><circle cx="1175" cy="260" r="2.5"/><circle cx="1171.7" cy="240" r="2"/><circle cx="1178.3" cy="226.7" r="2.5"/><circle cx="1202.3" cy="240" r="2.5"/><circle cx="1211.7" cy="245" r="2.5"/><circle cx="1151.7" cy="270.7" r="2"/><circle cx="1198.3" cy="272.7" r="2.5"/><circle cx="1213.3" cy="270.7" r="2"/><circle cx="1206" cy="283.3" r="3"/><circle cx="1145" cy="289" r="2.5"/><circle cx="1152.3" cy="294.3" r="2"/><circle cx="1205.7" cy="297.3" r="4"/><circle cx="1180" cy="303.3" r="2"/><circle cx="1224.3" cy="315.3" r="2"/><circle cx="1238.3" cy="317.7" r="2.5"/><circle cx="1203" cy="326.7" r="3.5"/><circle cx="1200.7" cy="336.7" r="2.5"/><circle cx="1267.7" cy="351" r="3.5"/><circle cx="1263.3" cy="352.3" r="2"/><circle cx="1278.3" cy="336.7" r="3.5"/><circle cx="1150" cy="368.3" r="3"/><circle cx="1108.3" cy="170" r="3.5"/><circle cx="1166.7" cy="198.3" r="3.5"/><circle cx="1183.3" cy="191.7" r="4.5"/><circle cx="1160" cy="178.3" r="4.5"/><circle cx="1193.3" cy="191.7" r="3.5"/><circle cx="1196.7" cy="201.7" r="3"/><circle cx="1189.3" cy="200" r="3"/><circle cx="1210.7" cy="219" r="3"/><circle cx="1202.7" cy="238.3" r="2.5"/><circle cx="1170" cy="238.3" r="2"/><circle cx="1161.7" cy="246" r="2.5"/><circle cx="1145" cy="226.7" r="3"/><circle cx="1161.7" cy="231.7" r="3"/><circle cx="1160" cy="256.7" r="3.5"/><circle cx="1165" cy="220" r="3.5"/><circle cx="1135" cy="185" r="3"/><circle cx="1150" cy="195" r="3"/><circle cx="1170" cy="190" r="3"/><circle cx="1124" cy="200" r="3"/><circle cx="1185" cy="215" r="3"/><circle cx="1175" cy="197" r="3.5"/><circle cx="1130" cy="235" r="3"/>
</g>
<g class="b">
<circle cx="1169.7" cy="133.3" r="3"/><circle cx="1129" cy="145" r="4"/><circle cx="1181.7" cy="141.7" r="5"/><circle cx="1224.3" cy="149" r="5"/><circle cx="1171.7" cy="173.3" r="3.5"/><circle cx="1193.3" cy="192.7" r="3.5"/><circle cx="1103" cy="212.7" r="6"/><circle cx="1167.7" cy="206.7" r="3"/><circle cx="1187.7" cy="221.7" r="3"/><circle cx="1250" cy="212.7" r="3.5"/><circle cx="1285" cy="239" r="2"/><circle cx="1124" cy="230.7" r="2"/><circle cx="1190.3" cy="239.3" r="4"/><circle cx="1225" cy="253.3" r="3.5"/><circle cx="1135" cy="260.7" r="2.5"/><circle cx="1151" cy="277.7" r="3.5"/><circle cx="1195" cy="269.3" r="2.5"/><circle cx="1154.3" cy="296.7" r="2"/><circle cx="1230" cy="296" r="2.5"/><circle cx="1233.3" cy="302.7" r="2"/><circle cx="1247" cy="302.7" r="2"/><circle cx="1219.7" cy="350" r="2"/><circle cx="1173.3" cy="185" r="4"/><circle cx="1156.7" cy="256.7" r="3.5"/><circle cx="1186" cy="228" r="3.5"/>
</g>
<g class="c">
<circle cx="1165" cy="119.3" r="4.5"/><circle cx="1159" cy="162.7" r="5.5"/><circle cx="1118.3" cy="175" r="6"/><circle cx="1141.7" cy="177.7" r="3"/><circle cx="1138.3" cy="203.7" r="5"/><circle cx="1114.2" cy="213.3" r="4.5"/><circle cx="1154.6" cy="220" r="6.5"/><circle cx="1178.3" cy="215" r="4.5"/><circle cx="1180" cy="205" r="3.5"/><circle cx="1168.3" cy="267.5" r="5"/><circle cx="1165" cy="279.3" r="3.5"/><circle cx="1156.7" cy="160" r="5"/><circle cx="1145" cy="176.7" r="3"/><circle cx="1178.3" cy="208.3" r="4.5"/><circle cx="1146" cy="214" r="4"/>
</g>
<g class="d">
<circle cx="1136.7" cy="129" r="2"/><circle cx="1149" cy="131.7" r="2"/><circle cx="1166.7" cy="130" r="2.5"/><circle cx="1157" cy="136.7" r="2.5"/><circle cx="1135.7" cy="148.3" r="2"/><circle cx="1150" cy="144" r="2"/><circle cx="1175" cy="151.3" r="2.5"/><circle cx="1141.7" cy="154" r="3"/><circle cx="1154.3" cy="150" r="2.5"/><circle cx="1165" cy="165" r="3"/><circle cx="1138.3" cy="173.3" r="2.5"/><circle cx="1151.7" cy="173.3" r="3"/><circle cx="1197.7" cy="179" r="2.5"/><circle cx="1211.7" cy="168.3" r="3"/><circle cx="1121" cy="206.7" r="3"/><circle cx="1126.7" cy="206.7" r="3"/><circle cx="1133.3" cy="226" r="2.5"/><circle cx="1151.7" cy="211.7" r="3.5"/><circle cx="1163.3" cy="213.3" r="3"/><circle cx="1198.3" cy="221.7" r="2.5"/><circle cx="1229" cy="224" r="2.5"/><circle cx="1143.3" cy="233.3" r="3"/><circle cx="1147.7" cy="236.7" r="3"/><circle cx="1151.7" cy="245" r="3"/><circle cx="1148.3" cy="243.3" r="3.5"/><circle cx="1158.3" cy="252.7" r="3"/><circle cx="1168.3" cy="251.7" r="3"/><circle cx="1129" cy="264" r="3"/><circle cx="1157.3" cy="136" r="3"/><circle cx="1151.7" cy="166.7" r="3"/><circle cx="1147.3" cy="166.7" r="3"/><circle cx="1141.7" cy="153.3" r="3"/><circle cx="1150" cy="180" r="3"/><circle cx="1141.7" cy="183.3" r="3"/><circle cx="1131.7" cy="208.3" r="3"/><circle cx="1150" cy="207.3" r="3.5"/><circle cx="1170" cy="205" r="3"/><circle cx="1196.7" cy="180" r="2.5"/><circle cx="1206.7" cy="215" r="2"/><circle cx="1155" cy="251.7" r="3"/><circle cx="1150" cy="231.7" r="3"/><circle cx="1140" cy="220" r="3"/><circle cx="1131.7" cy="220" r="2.5"/><circle cx="1135" cy="228.3" r="3"/><circle cx="1156.7" cy="235" r="3"/><circle cx="1166.7" cy="226.7" r="3"/><circle cx="1175" cy="223.3" r="3"/><circle cx="1180" cy="226.7" r="3"/><circle cx="1160" cy="160" r="3"/><circle cx="1163" cy="150" r="3"/><circle cx="1155" cy="190" r="3"/><circle cx="1160" cy="200" r="3"/><circle cx="1145" cy="195" r="3"/><circle cx="1148" cy="215" r="3"/><circle cx="1160" cy="185" r="2.5"/><circle cx="1165" cy="240" r="2.5"/><circle cx="1143" cy="205" r="2.5"/><circle cx="1162" cy="225" r="2.5"/><circle cx="1172" cy="215" r="2.5"/><circle cx="1138" cy="240" r="2.5"/>
</g>
<g class="e">
<circle cx="1106.7" cy="145.3" r="4.5"/><circle cx="1139" cy="191.7" r="4.5"/><circle cx="1104.3" cy="225" r="2.5"/><circle cx="1121.7" cy="207.3" r="3"/><circle cx="1160" cy="203.3" r="3"/>
</g>
</g>
<polygon transform="translate(1248.3,269) scale(11.5)" fill="#d2332b" stroke="#8a1a14" stroke-width=".05" points="0,-1 0.235,-0.324 0.951,-0.309 0.380,0.124 0.588,0.809 0,0.4 -0.588,0.809 -0.380,0.124 -0.951,-0.309 -0.235,-0.324"/>
<text x="1227.5" y="287" style="font-size:8.5px;fill:#222">9-2-2017 M5.3</text>
<rect x="1051" y="56.2" width="249" height="332.8" fill="none" stroke="#333" stroke-width="1.5"/>
<g stroke="#333" stroke-width="1">
<path d="M1051 56.2v-3M1084.3 56.2v-3M1117.7 56.2v-3M1151 56.2v-3M1184.3 56.2v-3M1217.7 56.2v-3M1251 56.2v-3M1284.3 56.2v-3"/>
<path d="M1051 389v4M1084.3 389v4M1117.7 389v4M1151 389v4M1184.3 389v4M1217.7 389v4M1251 389v4M1284.3 389v4"/>
<path d="M1051 56.2h-4M1051 89.5h-4M1051 122.8h-4M1051 156h-4M1051 189.3h-4M1051 222.6h-4M1051 255.9h-4M1051 289.2h-4M1051 322.4h-4M1051 355.7h-4M1051 389h-4"/>
<path d="M1300 56.2h4M1300 89.5h4M1300 122.8h4M1300 156h4M1300 189.3h4M1300 222.6h4M1300 255.9h4M1300 289.2h4M1300 322.4h4M1300 355.7h4M1300 389h4"/>
</g>
<g class="t" text-anchor="middle">
<text x="1051" y="49.5">0</text><text x="1084.3" y="49.5">2</text><text x="1117.7" y="49.5">4</text><text x="1151" y="49.5">6</text><text x="1184.3" y="49.5">8</text><text x="1217.7" y="49.5">10</text><text x="1251" y="49.5">12</text><text x="1284.3" y="49.5">14</text>
</g>
<g class="t" text-anchor="end">
<text x="1042" y="60.7">0</text><text x="1042" y="94">2</text><text x="1042" y="127.3">4</text><text x="1042" y="160.5">6</text><text x="1042" y="193.8">8</text><text x="1042" y="227.1">10</text><text x="1042" y="260.4">12</text><text x="1042" y="293.7">14</text><text x="1042" y="326.9">16</text><text x="1042" y="360.2">18</text><text x="1042" y="393.5">20</text>
</g>
<text x="1179.7" y="38.3" text-anchor="middle" class="bl" style="font-size:18px" textLength="129" lengthAdjust="spacingAndGlyphs">Distance (km)</text>
<text x="1044.5" y="36.7" class="bl" style="font-size:20px">B</text>
<text x="1292" y="36.7" class="bl" style="font-size:20px">B’</text>
</svg>
</body></html>
